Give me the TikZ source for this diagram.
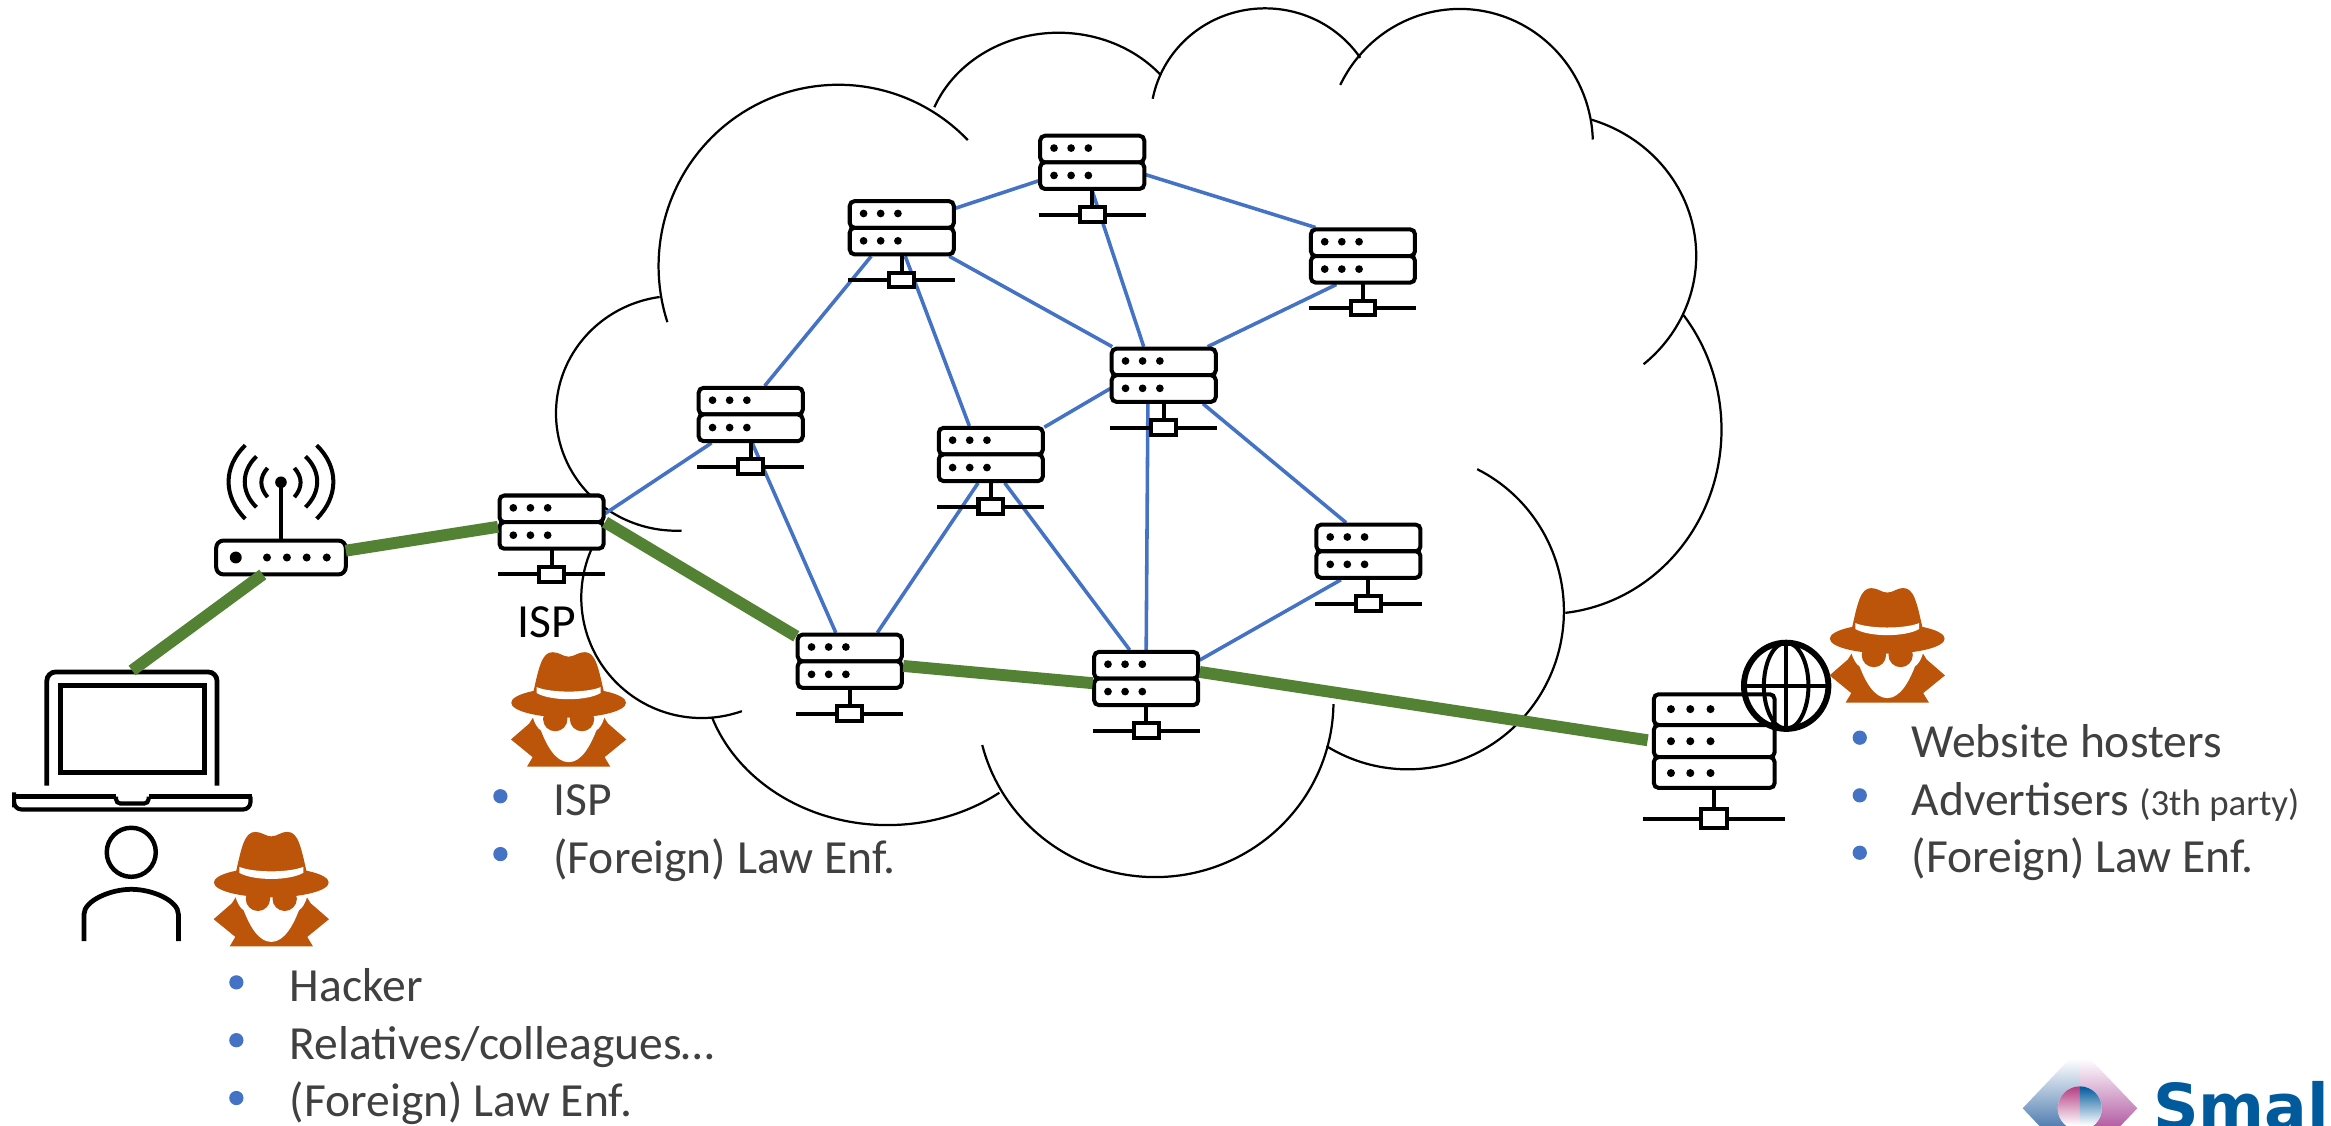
\documentclass[tikz,border=0pt]{standalone}
\usepackage{fontspec}
\setmainfont{Carlito}
\newfontfamily\logofont{DejaVu Sans}
\usetikzlibrary{backgrounds}
\definecolor{linkblue}{HTML}{4472C4}
\definecolor{pathgreen}{HTML}{548235}
\definecolor{spyorange}{HTML}{BC5409}
\definecolor{txtgrey}{HTML}{404040}
\definecolor{logoblue}{HTML}{005A9C}
\definecolor{logomag}{HTML}{B0559F}
\definecolor{logolight}{HTML}{4A78AE}
\tikzset{
  rackfill/.style={draw=black,fill=white,line width=1.35pt,rounded corners=1.6pt},
  iconline/.style={draw=black,line width=1.35pt},
  anchorbox/.style={inner sep=0pt,outer sep=0pt,minimum width=36pt,minimum height=19.2pt},
  link/.style={draw=linkblue,line width=1.2pt},
  route/.style={draw=pathgreen,line width=4pt},
  cloudarc/.style={draw=black,line width=.75pt},
  lbl/.style={anchor=base west,inner sep=0pt,text=txtgrey,font=\fontsize{16}{18}\selectfont},
  bul/.style={circle,fill=linkblue,inner sep=0pt,minimum size=4.8pt},
  spyfig/.pic={
    \fill[spyorange] (-38.8,58.7)--(-26.5,48)--(-24,44)--(24,44)--(26.5,48)--(38.8,58.7)--(24.2,70.6)--(28,77)--(-28,77)--(-24.2,70.6)--cycle;
    \fill[white] (-24.2,43) .. controls (-23,48) and (-21,51) .. (-18.6,52.7) .. controls (-15,62) and (-9,74) .. (0,74) .. controls (9,74) and (15,62) .. (18.6,52.7) .. controls (21,51) and (23,48) .. (24.2,43) -- cycle;
    \fill[spyorange] (-9,45) circle[radius=8.2];
    \fill[spyorange] (9,45) circle[radius=8.2];
    \fill[spyorange] (0,34) ellipse[x radius=38.6,y radius=10];
    \fill[spyorange] (-24,28) .. controls (-20,10) and (-18,0) .. (-10.8,0) .. controls (-6,0) and (-4,3) .. (0,3) .. controls (4,3) and (6,0) .. (11,0) .. controls (18,0) and (20,10) .. (24,28) -- cycle;
    \fill[white] (-21.5,23.5) .. controls (-12,27.5) and (12,27.5) .. (21.5,23.5) -- (21.5,27.5) .. controls (12,33) and (-12,33) .. (-21.5,27.5) -- cycle;
  }
}
\newcommand{\srvicon}[3]{%
  \node[anchorbox] (#1) at (#2,#3+19.2) {};
  \begin{scope}[shift={(#2,#3)}]
    \draw[iconline] (0,38)--(0,50);
    \draw[iconline] (-36,54.4)--(36,54.4);
    \draw[rackfill] (-35,1.3) rectangle (35,19.2);
    \draw[rackfill] (-35,19.2) rectangle (35,37.1);
    \draw[iconline,fill=white] (-8.3,49.4) rectangle (8.3,59.2);
    \foreach \dotx in {-25.7,-14.2,-2.6}{
      \fill (\dotx,9.6) circle[radius=2.6];
      \fill (\dotx,28) circle[radius=2.6];
    }
  \end{scope}}
% centre x, centre y, radius x, radius y, start angle, end angle (y runs downwards)
\newcommand{\lobearc}[6]{\draw[cloudarc] plot[domain=#5:#6,samples=70,smooth] ({#1+#3*cos(\x)},{#2+#4*sin(\x)});}
\begin{document}
\begin{tikzpicture}[x=0.5pt,y=-0.5pt]
\useasboundingbox (0,0) rectangle (1568,757);

% servers
\srvicon{ispsrv}{371}{332}
\srvicon{nb}{505}{259.6}
\srvicon{nc}{606.6}{134}
\srvicon{nd}{734.7}{90}
\srvicon{ne}{916.8}{153}
\srvicon{nf}{782.8}{233.2}
\srvicon{ng}{666.5}{286.5}
\srvicon{nh}{920.5}{351.6}
\srvicon{ni}{571.6}{425.6}
\srvicon{nj}{771}{437.2}

% web server
\node[inner sep=0pt,outer sep=0pt,minimum width=41.7pt,minimum height=32.6pt] (web) at (1153,498.4) {};
\draw[iconline] (1153,531)--(1153,545);
\draw[iconline] (1105,550.6)--(1201,550.6);
\draw[rackfill] (1112.5,467) rectangle (1193.7,487.7);
\draw[rackfill] (1112.5,487.7) rectangle (1193.7,509.3);
\draw[rackfill] (1112.5,509.3) rectangle (1193.7,530);
\draw[iconline,fill=white] (1144,544) rectangle (1162,557);
\foreach \dotx in {1124,1137,1150.6}\foreach \doty in {477,498.6,520}{\fill (\dotx,\doty) circle[radius=2.7];}
% globe
\node[inner sep=0pt,outer sep=0pt,minimum width=30pt,minimum height=30pt] (globe) at (1201.5,461.3) {};
\draw[draw=black,line width=2pt] (1201.5,461.3) ellipse[x radius=28.4,y radius=29];
\draw[iconline] (1201.5,461.3) ellipse[x radius=15,y radius=29];
\draw[iconline] (1201.5,432)--(1201.5,490.5);
\draw[iconline] (1173,461.3)--(1230,461.3);

% router
\node[draw=black,fill=white,line width=1.35pt,rounded corners=2.5pt,inner sep=0pt,outer sep=0pt,minimum width=43.6pt,minimum height=11.4pt] (router) at (189,375) {};
\fill (158.6,375) circle[radius=4];
\foreach \dotx in {179.6,193,206.3,219.8}{\fill (\dotx,375) circle[radius=2.7];}
\draw[iconline] (189,363)--(189,325);
\fill (189,324.4) circle[radius=3.9];
\foreach \sgn in {-1,1}{
  \draw[iconline] (189+\sgn*9,314.8) .. controls (189+\sgn*14.6,321) and (189+\sgn*14.6,328) .. (189+\sgn*9,334.4);
  \draw[iconline] (189+\sgn*16.5,307) .. controls (189+\sgn*27,317) and (189+\sgn*27,331) .. (189+\sgn*16.5,341.2);
  \draw[iconline] (189+\sgn*24,299.5) .. controls (189+\sgn*39,314) and (189+\sgn*39,334) .. (189+\sgn*24,349);
}

% laptop
\node[inner sep=0pt,outer sep=0pt,minimum width=58.9pt,minimum height=39pt] (laptop) at (88.85,490) {};
\draw[draw=black,line width=1.6pt,rounded corners=3pt] (31.5,528.4)--(31.5,452)--(146,452)--(146,528.4);
\draw[draw=black,line width=1.6pt] (40.5,461)rectangle(137.5,519.5);
\draw[draw=black,line width=1.4pt,rounded corners=2.5pt] (9.5,535.8)--(9.5,538) -- (9.5,544.5)--(168.5,544.5)--(168.5,535.8);
\draw[draw=black,line width=1.4pt] (8.5,535.8)--(78,535.8);
\draw[draw=black,line width=1.4pt] (100,535.8)--(169.7,535.8);
\draw[draw=black,line width=1.4pt,rounded corners=1.5pt] (78,535.8)--(78,540.5)--(100,540.5)--(100,535.8);

% person
\node[draw=black,line width=1.5pt,circle,inner sep=0pt,outer sep=0pt,minimum size=16.5pt] (person) at (88.3,573.3) {};
\draw[draw=black,line width=1.6pt] (56.5,633)--(56.5,615) .. controls (56.5,606) and (74,598.2) .. (88.3,598.2) .. controls (103,598.2) and (120,606) .. (120,615)--(120,633);

% spies
\pic (spya) at (182.5,559.6) {spyfig};
\pic (spyb) at (382.5,438.7) {spyfig};
\pic (spyc) at (1269.5,395.6) {spyfig};

% cloud and links behind the icons
\begin{pgfonlayer}{background}
\lobearc{455}{278}{81}{79}{87.5}{262}
\lobearc{564}{179}{121}{122}{162}{316}
\lobearc{712}{102}{90}{80}{201.9}{320}
\lobearc{851}{80.6}{77}{75}{190.9}{326.2}
\lobearc{982}{97}{89.5}{91}{206}{358}
\lobearc{1040}{172}{101}{96}{287.5}{409.5}
\lobearc{1040}{289}{118}{124}{-38.4}{83.7}
\lobearc{947}{411}{105}{106.5}{-63.6}{121.4}
\lobearc{777}{472}{120}{118}{0.8}{165.7}
\lobearc{597}{447}{125}{108}{53}{160.7}
\lobearc{472}{402}{81}{81}{70.5}{208.7}
\draw[link] (ispsrv.9.5)--(nb.216.4);
\draw[link] (nb.64.9)--(nc.223);
\draw[link] (nc.20)--(nd.199.6);
\draw[link] (nd.-13)--(ne.149.7);
\draw[link] (nc.-31.8)--(nf.151.5);
\draw[link] (nc.277)--(ng.127.6);
\draw[link] (nd.270)--(nf.125.7);
\draw[link] (ne.227.6)--(nf.33.5);
\draw[link] (ng.27.8)--(nf.194);
\draw[link] (nb.273)--(ni.116.6);
\draw[link] (ng.246)--(ni.46.2);
\draw[link] (ng.296)--(nj.120);
\draw[link] (nf.241.6)--(nj.90);
\draw[link] (nf.-36.8)--(nh.128);
\draw[link] (nh.226.8)--(nj.19);
\end{pgfonlayer}

% green route
\draw[route] (laptop.north)--(router.223);
\draw[route] (router.6)--(ispsrv.185);
\draw[route] (ispsrv.east)--(ni.155);
\draw[route] (ni.355)--(nj.185);
\draw[route,shorten >=1.5pt] (nj.7)--(web.west);

% labels
\node[anchor=base west,inner sep=0pt,text=black,font=\fontsize{16}{18}\selectfont] (isplabel) at (348,429) {ISP};

\node[bul] (ba) at (159,660.8) {};
\node[bul] (bb) at (159,699.7) {};
\node[bul] (bc) at (159,738.6) {};
\node[lbl] (ta) at (194.6,673.9) {Hacker};
\node[lbl] (tb) at (194.6,712.8) {Relatives/colleagues…};
\node[lbl] (tc) at (194.6,751) {(Foreign) Law Enf.};

\node[bul] (bd) at (336.6,535.6) {};
\node[bul] (be) at (336.6,574.5) {};
\node[lbl] (td) at (371.8,548.7) {ISP};
\node[lbl] (te) at (371.8,587.3) {(Foreign) Law Enf.};

\node[bul] (bf) at (1251,496.2) {};
\node[bul] (bg) at (1251,535) {};
\node[bul] (bh) at (1251,573.6) {};
\node[lbl] (tf) at (1285.5,509.5) {Website hosters};
\node[lbl] (tg) at (1285.5,548.6) {Advertisers {\fontsize{12.4}{14}\selectfont (3th party)}};
\node[lbl] (th) at (1285.5,586.7) {(Foreign) Law Enf.};

% logo, cut by the picture's edge
\begin{scope}
\clip (1300,690) rectangle (1568,757);
\begin{scope}
\clip (1399,705)--(1360.6,745.5)--(1399,786)--cycle;
\shade[top color=white,bottom color=logolight] (1350,712) rectangle (1399,760);
\end{scope}
\begin{scope}
\clip (1399,705)--(1437.7,745.5)--(1399,786)--cycle;
\shade[top color=white,bottom color=logomag] (1399,712) rectangle (1450,760);
\end{scope}
\fill[white] (1399,745.5) circle[radius=14.8];
\begin{scope}
\clip (1399,745.5) circle[radius=14.8];
\shade[top color=logomag!70!purple,bottom color=white] (1384,730.7) rectangle (1399,757);
\shade[top color=logoblue,bottom color=white] (1399,730.7) rectangle (1414,757);
\end{scope}
\node[anchor=base west,inner sep=0pt,text=logoblue,font=\logofont\bfseries\fontsize{21.3}{24}\selectfont] (logotext) at (1448,760) {Smal};
\end{scope}
\end{tikzpicture}
\end{document}
